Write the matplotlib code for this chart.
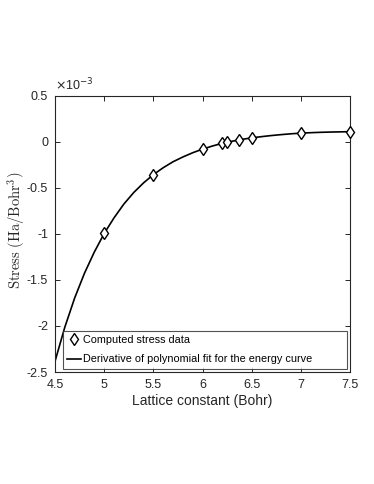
import matplotlib.pyplot as plt
import numpy as np

plt.rcParams['font.family'] = ['Liberation Sans', 'DejaVu Sans']
plt.rcParams['mathtext.fontset'] = 'cm'

# computed stress data (units of 1e-3 Ha/Bohr^3)
lat_data = [5.0, 5.5, 6.0, 6.2, 6.25, 6.375, 6.5, 7.0, 7.5]
stress_data = [-0.99, -0.355, -0.078, -0.014, -0.003, 0.02, 0.046, 0.097, 0.112]

# derivative of polynomial fit
lat_fit = [4.5, 4.6, 4.7, 4.8, 4.9, 5.0, 5.1, 5.2, 5.3, 5.4, 5.5, 5.6, 5.7, 5.8, 5.9,
           6.0, 6.1, 6.2, 6.3, 6.4, 6.5, 6.6, 6.7, 6.8, 6.9, 7.0, 7.1, 7.2, 7.3, 7.4, 7.5]
stress_fit = [-2.385, -2.013, -1.696, -1.426, -1.196, -0.995, -0.825, -0.675, -0.55, -0.445,
              -0.355, -0.28, -0.215, -0.163, -0.117, -0.078, -0.044, -0.015, 0.008, 0.028,
              0.045, 0.058, 0.070, 0.080, 0.089, 0.096, 0.101, 0.105, 0.108, 0.110, 0.112]

fig = plt.figure(figsize=(3.74, 4.84), dpi=100)
ax = fig.add_axes([0.147, 0.2314, 0.789, 0.5703])

ax.plot(lat_data, stress_data, linestyle='none', marker='d', markersize=6.0,
        markerfacecolor='white', markeredgecolor='black', markeredgewidth=1.0,
        label='Computed stress data', zorder=3, clip_on=False)
ax.plot(lat_fit, stress_fit, color='black', linewidth=1.2,
        label='Derivative of polynomial fit for the energy curve', zorder=2)

ax.set_xlim(4.5, 7.5)
ax.set_ylim(-2.5, 0.5)
ax.set_xticks(np.arange(4.5, 7.51, 0.5))
ax.set_xticklabels(['4.5', '5', '5.5', '6', '6.5', '7', '7.5'])
ax.set_yticks(np.arange(-2.5, 0.51, 0.5))
ax.set_yticklabels(['-2.5', '-2', '-1.5', '-1', '-0.5', '0', '0.5'])
ax.tick_params(direction='in', top=True, right=True, labelsize=9, length=3.5,
               width=0.7, colors='#262626', labelcolor='#262626')
ax.tick_params(axis='x', pad=5)
ax.tick_params(axis='y', pad=5)
for s in ax.spines.values():
    s.set_linewidth(0.8)
    s.set_color('#262626')

ax.set_xlabel('Lattice constant (Bohr)', fontsize=10, color='#262626', labelpad=2)
ax.set_ylabel(r'$\mathrm{Stress\ (Ha/Bohr^3)}$', fontsize=10.5, color='#262626')
ax.yaxis.set_label_coords(-0.092, 0.513)
ax.text(0.0, 1.01, r'$\times$10$^{-3}$', transform=ax.transAxes, fontsize=9,
        ha='left', va='bottom', color='#262626', math_fontfamily='dejavusans')

leg = ax.legend(loc='lower left', bbox_to_anchor=(0.027, 0.012, 0.963, 0.14), mode='expand',
                fontsize=7.8, frameon=True, fancybox=False, borderaxespad=0,
                handlelength=1.3, handletextpad=0.12, labelspacing=0.85, borderpad=0.4)
leg.get_frame().set_edgecolor('#262626')
leg.get_frame().set_linewidth(0.8)

fig.savefig('out.png', dpi=100)
